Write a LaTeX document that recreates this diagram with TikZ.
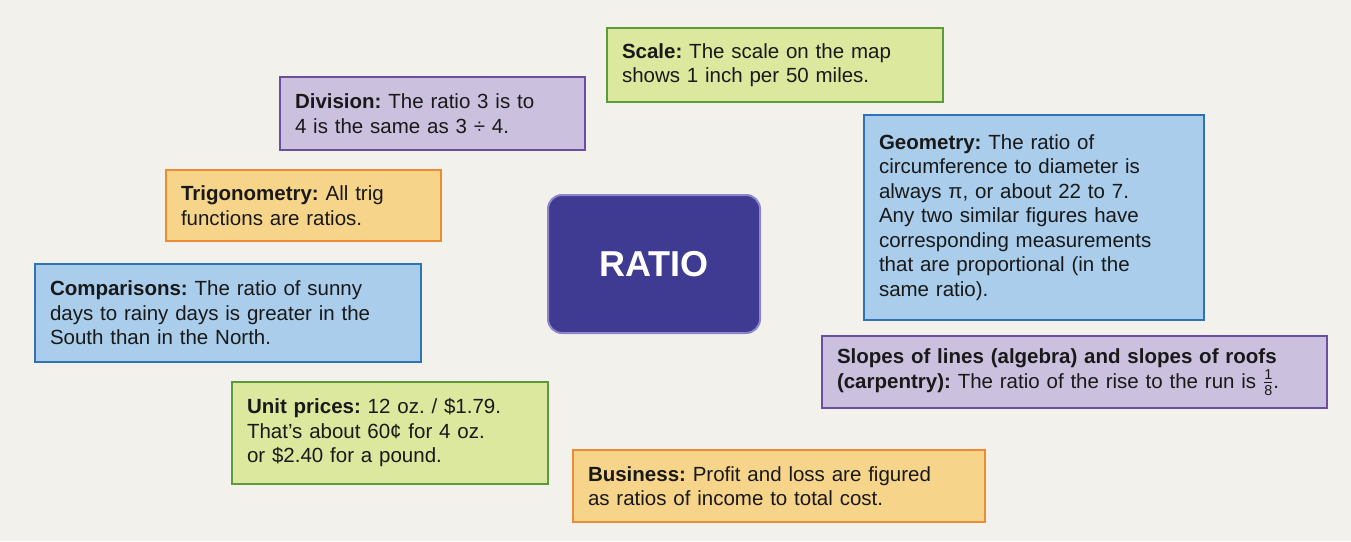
\documentclass[tikz,border=0pt]{standalone}
\usepackage{amsmath}
\usepackage{fontspec}
\setmainfont{Liberation Sans}
\frenchspacing
\definecolor{pagebg}{HTML}{F3F1EC}
\definecolor{lavfill}{HTML}{CBC1DE}
\definecolor{lavline}{HTML}{6B4F9E}
\definecolor{grnfill}{HTML}{DCE89E}
\definecolor{grnline}{HTML}{5C9B3B}
\definecolor{blufill}{HTML}{A9CDEA}
\definecolor{bluline}{HTML}{2D73B5}
\definecolor{orgfill}{HTML}{F6D58A}
\definecolor{orgline}{HTML}{EC8D35}
\definecolor{ratiofill}{HTML}{3F3B93}
\definecolor{ratioline}{HTML}{8A86C7}
\begin{document}
\begin{tikzpicture}[x=1pt,y=-1pt,
  notebox/.style={draw, line width=2.6pt, inner xsep=15pt, align=left,
    font=\fontsize{20.5}{24.5}\selectfont, text=black!90},
  lavbox/.style={notebox, fill=lavfill, draw=lavline},
  grnbox/.style={notebox, fill=grnfill, draw=grnline},
  blubox/.style={notebox, fill=blufill, draw=bluline},
  orgbox/.style={notebox, fill=orgfill, draw=orgline}]
\fill[pagebg] (0,0) rectangle (1351,541);
\useasboundingbox (0,0) rectangle (1351,541);
% boxes round the centre
\node[lavbox, minimum width=305, minimum height=73, text width=275] (division) at (432.5,113.5)
  {\textbf{Division:} The ratio 3 is to\\4 is the same as 3 ÷ 4.};
\node[grnbox, minimum width=336, minimum height=74, text width=306] (scale) at (775,65)
  {\textbf{Scale:} The scale on the map\\shows 1 inch per 50 miles.};
\node[blubox, minimum width=340, minimum height=205, text width=310] (geometry) at (1034,217.5)
  {\textbf{Geometry:} The ratio of\\circumference to diameter is\\always π, or about 22 to 7.\\Any two similar figures have\\corresponding measurements\\that are proportional (in the\\same ratio).};
\node[orgbox, minimum width=275, minimum height=71, text width=245] (trig) at (303.5,205.5)
  {\textbf{Trigonometry:} All trig\\functions are ratios.};
\node[blubox, minimum width=386, minimum height=98, text width=356] (comparisons) at (228,313)
  {\textbf{Comparisons:} The ratio of sunny\\days to rainy days is greater in the\\South than in the North.};
\node[lavbox, minimum width=505, minimum height=72, text width=475] (slopes) at (1074.5,372)
  {\textbf{Slopes of lines (algebra) and slopes of roofs}\\\textbf{(carpentry):} The ratio of the rise to the run is $\tfrac{\text{1}}{\text{8}}$.};
\node[grnbox, minimum width=316, minimum height=102, text width=286] (unitprices) at (390,433)
  {\textbf{Unit prices:} 12 oz. / \$1.79.\\That’s about 60¢ for 4 oz.\\or \$2.40 for a pound.};
\node[orgbox, minimum width=412, minimum height=72, text width=382] (business) at (779,486)
  {\textbf{Business:} Profit and loss are figured\\as ratios of income to total cost.};
% centre
\node[draw=ratioline, fill=ratiofill, line width=2pt, rounded corners=14pt,
  minimum width=212, minimum height=138, text=white,
  font=\fontsize{36}{40}\selectfont\bfseries] (ratio) at (654,264) {RATIO};
\end{tikzpicture}
\end{document}
